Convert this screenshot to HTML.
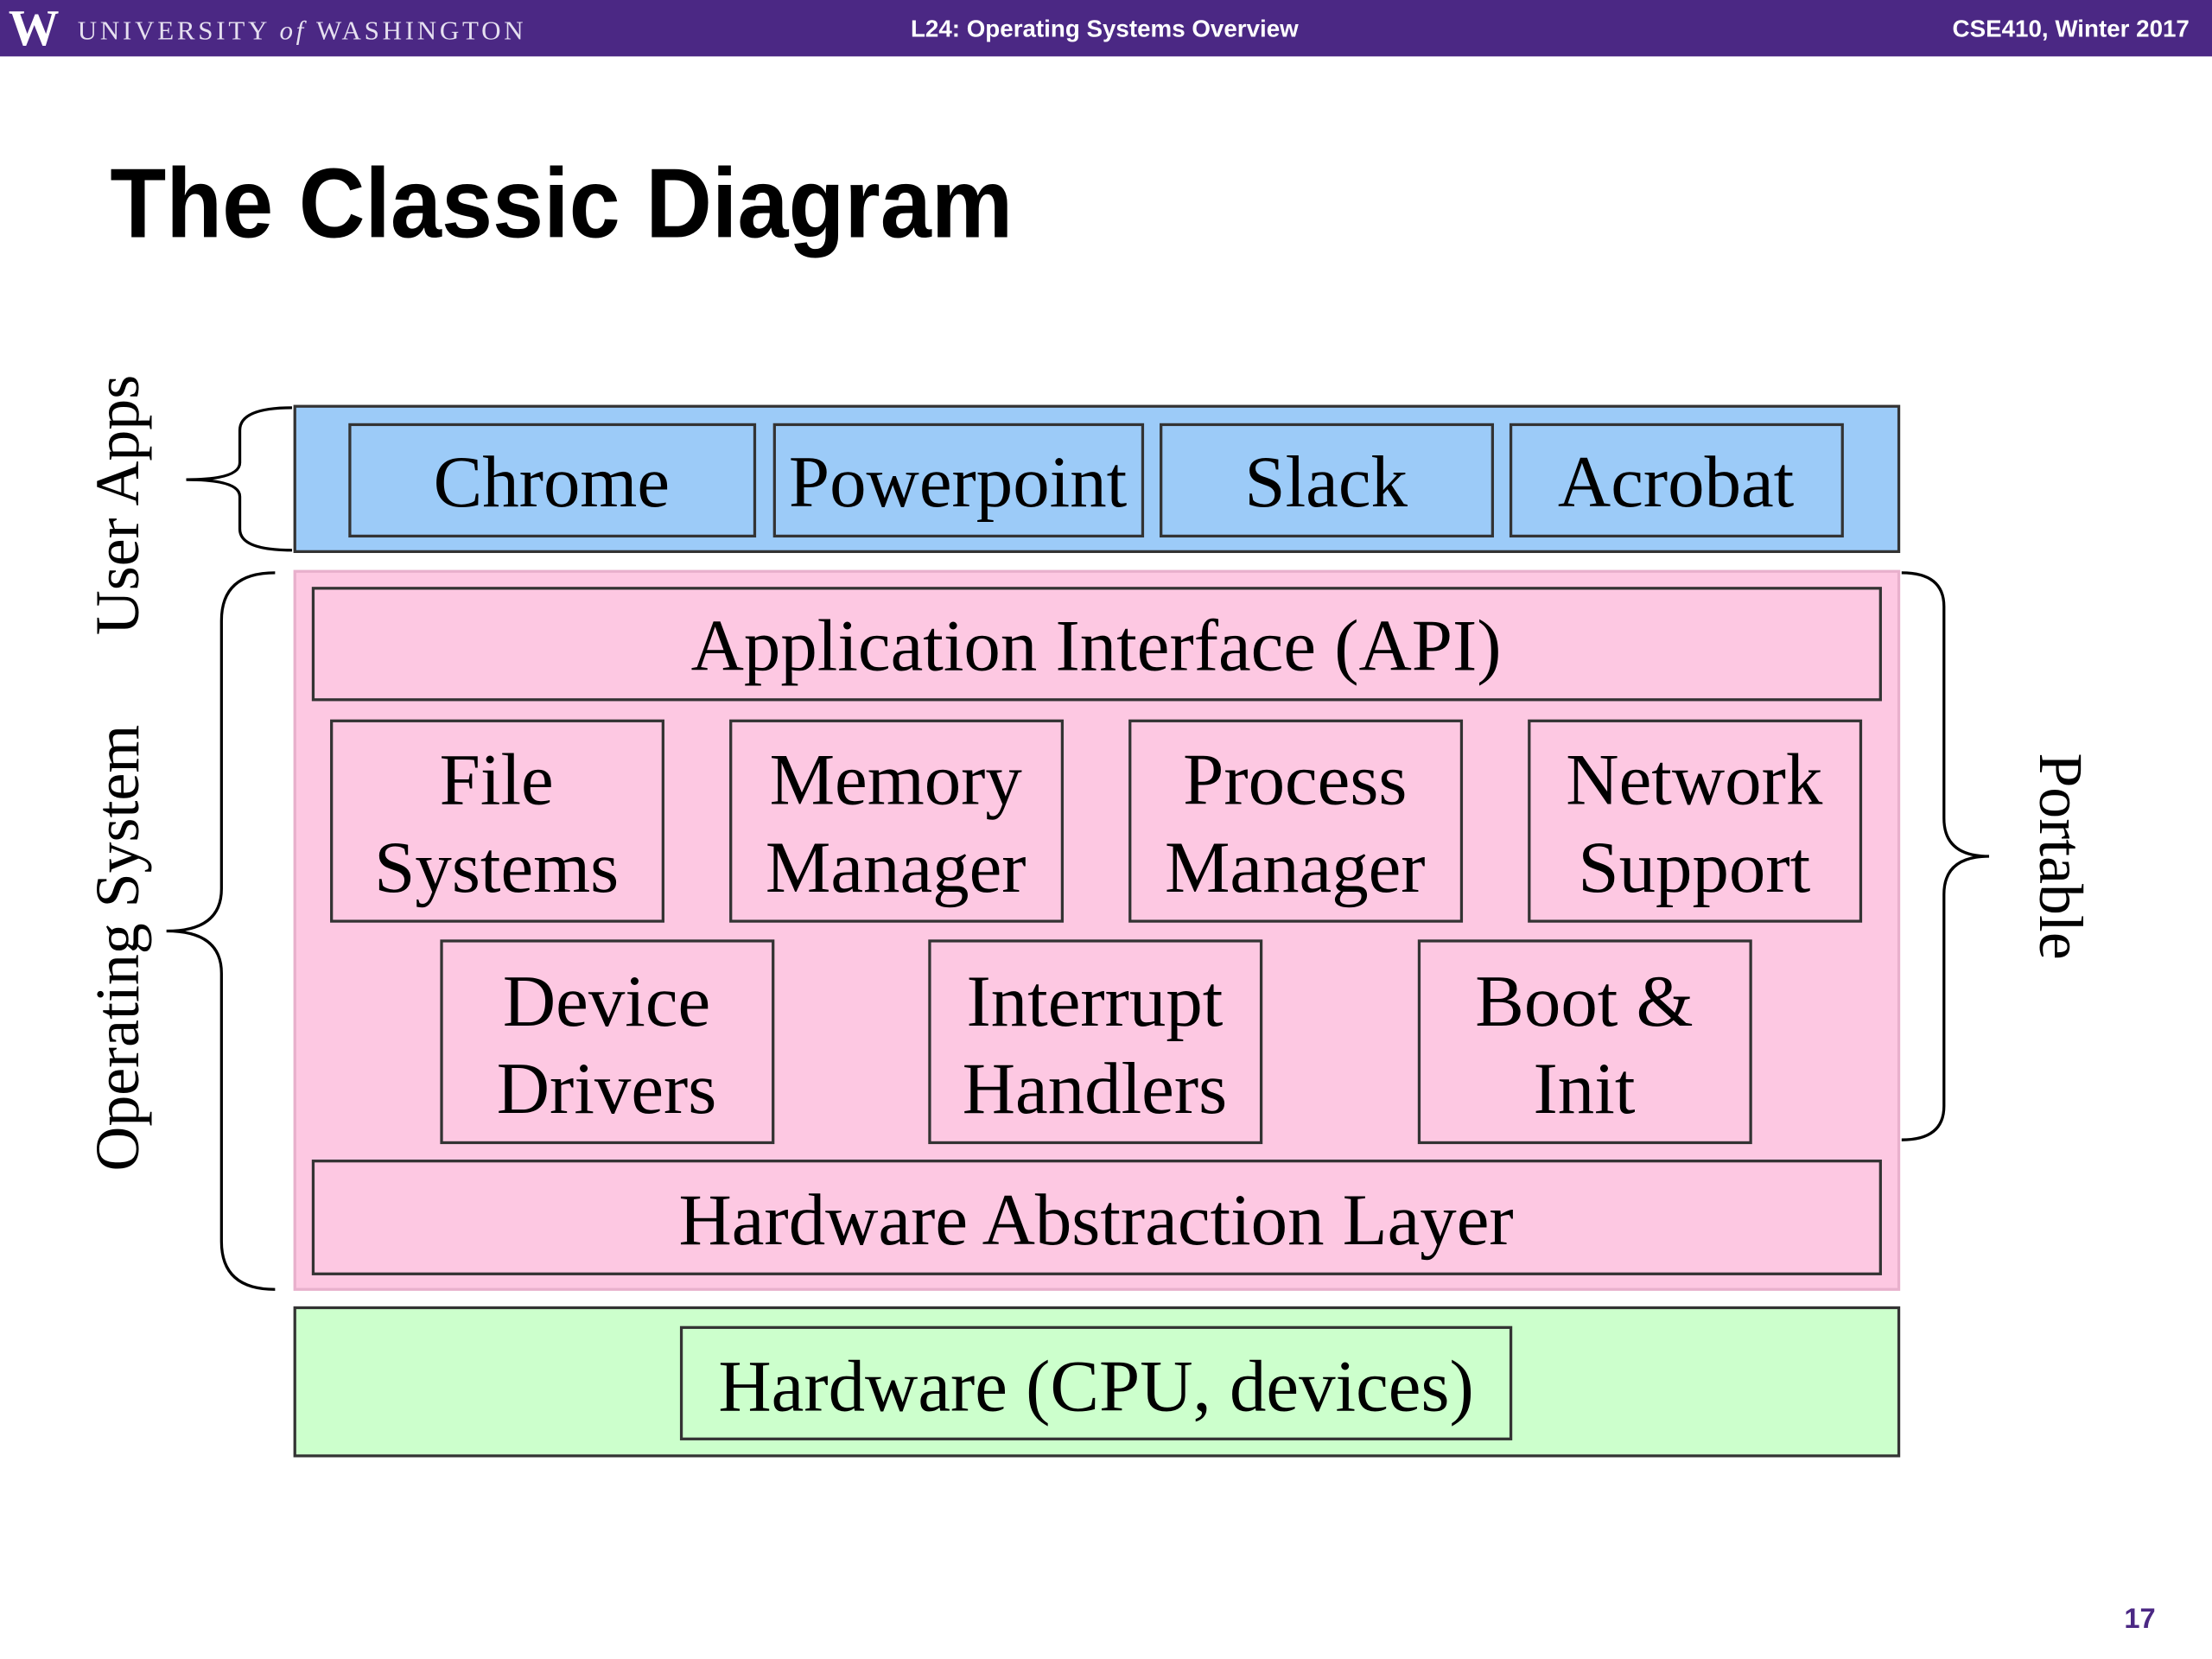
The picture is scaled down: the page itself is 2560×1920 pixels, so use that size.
<!DOCTYPE html>
<html><head><meta charset="utf-8"><style>
html,body{margin:0;padding:0;background:#fff;}
svg{display:block;}
</style></head><body>
<svg width="2560" height="1920" viewBox="0 0 1568 1176" xmlns="http://www.w3.org/2000/svg">
<rect x="0" y="0" width="1568" height="40" fill="#4b2884"/>
<text x="6" y="32" font-family="Liberation Serif, serif" font-weight="bold" font-size="36" fill="#fff">W</text>
<text x="55" y="28" font-family="Liberation Serif, serif" font-size="19" letter-spacing="2" fill="#e6e0f0" textLength="318">UNIVERSITY <tspan font-style="italic">of</tspan> WASHINGTON</text>
<text x="783" y="26" text-anchor="middle" font-family="Liberation Sans, sans-serif" font-weight="bold" font-size="17" fill="#fff">L24:  Operating Systems Overview</text>
<text x="1552" y="26" text-anchor="end" font-family="Liberation Sans, sans-serif" font-weight="bold" font-size="17" fill="#fff">CSE410, Winter 2017</text>
<text x="78" y="168" font-family="Liberation Sans, sans-serif" font-weight="bold" font-size="70" fill="#000" textLength="640" lengthAdjust="spacingAndGlyphs">The Classic Diagram</text>
<text x="1528" y="1154" text-anchor="end" font-family="Liberation Sans, sans-serif" font-weight="bold" font-size="20" fill="#4b2884">17</text>

<g stroke="#333" stroke-width="2">
<rect x="209" y="288" width="1137" height="103" fill="#9ccbf8"/>
<rect x="209" y="405" width="1137" height="509" fill="#fdc8e2" stroke="#e8b0cc"/>
<rect x="209" y="927" width="1137" height="105" fill="#ccffcc"/>
<g fill="#9ccbf8">
<rect x="248" y="301" width="287" height="79"/>
<rect x="549" y="301" width="261" height="79"/>
<rect x="823" y="301" width="235" height="79"/>
<rect x="1071" y="301" width="235" height="79"/>
</g>
<g fill="#fdc8e2">
<rect x="222" y="417" width="1111" height="79"/>
<rect x="235" y="511" width="235" height="142"/>
<rect x="518" y="511" width="235" height="142"/>
<rect x="801" y="511" width="235" height="142"/>
<rect x="1084" y="511" width="235" height="142"/>
<rect x="313" y="667" width="235" height="143"/>
<rect x="659" y="667" width="235" height="143"/>
<rect x="1006" y="667" width="235" height="143"/>
<rect x="222" y="823" width="1111" height="80"/>
</g>
<rect x="483" y="941" width="588" height="79" fill="#ccffcc"/>
</g>
<g fill="none" stroke="#000" stroke-width="2">
<path d="M207 289 Q170 289 170 305 L170 328 Q170 340 132 340 Q170 340 170 352 L170 375 Q170 390 207 390"/>
<path d="M195 406 Q157 406 157 440 L157 630 Q157 660 118 660 Q157 660 157 690 L157 880 Q157 914 195 914"/>
<path d="M1348 406 Q1378 406 1378 430 L1378 580 Q1378 607 1410 607 Q1378 607 1378 634 L1378 784 Q1378 808 1348 808"/>
</g>
<g font-family="Liberation Serif, serif" font-size="52" fill="#000" text-anchor="middle">
<text x="391" y="359">Chrome</text>
<text x="679" y="359">Powerpoint</text>
<text x="940" y="359">Slack</text>
<text x="1188" y="359">Acrobat</text>
<text x="777" y="475">Application Interface (API)</text>
<text x="352" y="570">File</text><text x="352" y="632">Systems</text>
<text x="635" y="570">Memory</text><text x="635" y="632">Manager</text>
<text x="918" y="570">Process</text><text x="918" y="632">Manager</text>
<text x="1201" y="570">Network</text><text x="1201" y="632">Support</text>
<text x="430" y="727">Device</text><text x="430" y="789">Drivers</text>
<text x="776" y="727">Interrupt</text><text x="776" y="789">Handlers</text>
<text x="1123" y="727">Boot &amp;</text><text x="1123" y="789">Init</text>
<text x="777" y="882">Hardware Abstraction Layer</text>
<text x="777" y="1000">Hardware (CPU, devices)</text>
</g>
<g font-family="Liberation Serif, serif" font-size="44" fill="#000" text-anchor="middle">
<text transform="translate(98,358) rotate(-90)">User Apps</text>
<text transform="translate(98,672) rotate(-90)">Operating System</text>
<text transform="translate(1446,607) rotate(90)">Portable</text>
</g>
</svg>
</body></html>
